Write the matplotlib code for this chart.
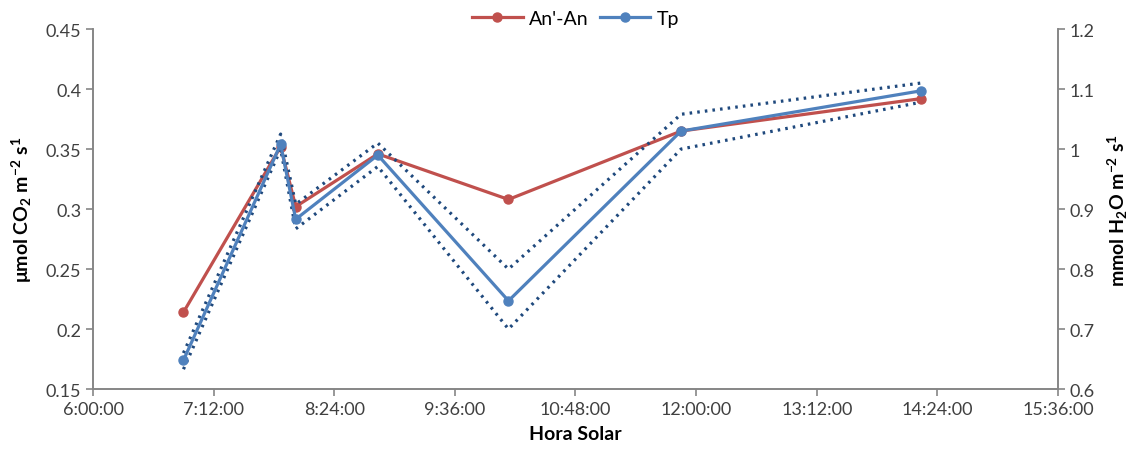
import matplotlib
matplotlib.use("Agg")
import matplotlib.pyplot as plt
from matplotlib.ticker import FuncFormatter, MultipleLocator

plt.rcParams['font.family'] = ['Lato', 'DejaVu Sans']
plt.rcParams['mathtext.default'] = 'regular'

# hora solar (h:mm) of each measurement
horas = ["6:54", "7:52", "8:01", "8:50", "10:08", "11:51", "14:14"]
# An'-An, umol CO2 m-2 s-1 (left axis)
an_diff = [0.214, 0.352, 0.302, 0.346, 0.308, 0.365, 0.392]
# Tp, mmol H2O m-2 s-1 (right axis)
tp = [0.648, 1.008, 0.883, 0.990, 0.747, 1.030, 1.097]
tp_sup = [0.660, 1.025, 0.908, 1.010, 0.800, 1.058, 1.110]
tp_inf = [0.633, 1.000, 0.867, 0.971, 0.700, 1.000, 1.078]

RED = '#C0504D'
BLUE = '#4F81BD'
NAVY = '#1F497D'
GRIS = '#868686'
TXT = '#404040'


def to_hours(s):
    h, m = s.split(':')
    return int(h) + int(m) / 60.0


def fmt_hora(x, pos):
    tot = int(round(x * 3600))
    return "%d:%02d:%02d" % (tot // 3600, (tot % 3600) // 60, tot % 60)


x = [to_hours(h) for h in horas]

fig = plt.figure(figsize=(11.37, 4.56), dpi=100)
ax = fig.add_axes([0.0818, 0.1447, 0.8487, 0.7893])
ax2 = ax.twinx()

ax.plot(x, an_diff, color=RED, lw=2.3, marker='o', ms=6.5, label="An'-An", zorder=3)
ax2.plot(x, tp_sup, color=NAVY, lw=2.3, ls=(0, (0.8, 1.6)), zorder=2)
ax2.plot(x, tp_inf, color=NAVY, lw=2.3, ls=(0, (0.8, 1.6)), zorder=2)
ax2.plot(x, tp, color=BLUE, lw=2.3, marker='o', ms=6.5, label='Tp', zorder=3)

ax.set_xlim(6.0, 15.6)
ax.xaxis.set_major_locator(MultipleLocator(1.2))
ax.xaxis.set_major_formatter(FuncFormatter(fmt_hora))
ax.set_ylim(0.15, 0.45)
ax.yaxis.set_major_locator(MultipleLocator(0.05))
ax.yaxis.set_major_formatter(FuncFormatter(lambda v, p: ('%.2f' % v).rstrip('0').rstrip('.')))
ax2.set_ylim(0.6, 1.2)
ax2.yaxis.set_major_locator(MultipleLocator(0.1))
ax2.yaxis.set_major_formatter(FuncFormatter(lambda v, p: ('%.1f' % v).rstrip('0').rstrip('.')))

for a in (ax, ax2):
    a.spines['top'].set_visible(False)
    for s in ('left', 'right', 'bottom'):
        a.spines[s].set_color(GRIS)
        a.spines[s].set_linewidth(1.2)
    a.tick_params(colors=GRIS, labelcolor=TXT, labelsize=13, length=5, width=1.2, direction='out')

ax.set_xlabel('Hora Solar', fontsize=14, fontweight='bold', color='black', labelpad=6)
ax.set_ylabel(r'μmol CO$_2$ m$^{-2}$ s$^{1}$', fontsize=14, fontweight='bold', color='black', labelpad=8)
ax2.set_ylabel(r'mmol H$_2$O m$^{-2}$ s$^{1}$', fontsize=14, fontweight='bold', color='black', labelpad=8)

h1, l1 = ax.get_legend_handles_labels()
h2, l2 = ax2.get_legend_handles_labels()
ax.legend(h1 + h2, l1 + l2, loc='lower center', bbox_to_anchor=(0.5, 0.985), ncol=2,
          frameon=False, fontsize=14, handlelength=2.6, columnspacing=0.6, handletextpad=0.3,
          borderaxespad=0)

fig.savefig('out.png', dpi=100)
